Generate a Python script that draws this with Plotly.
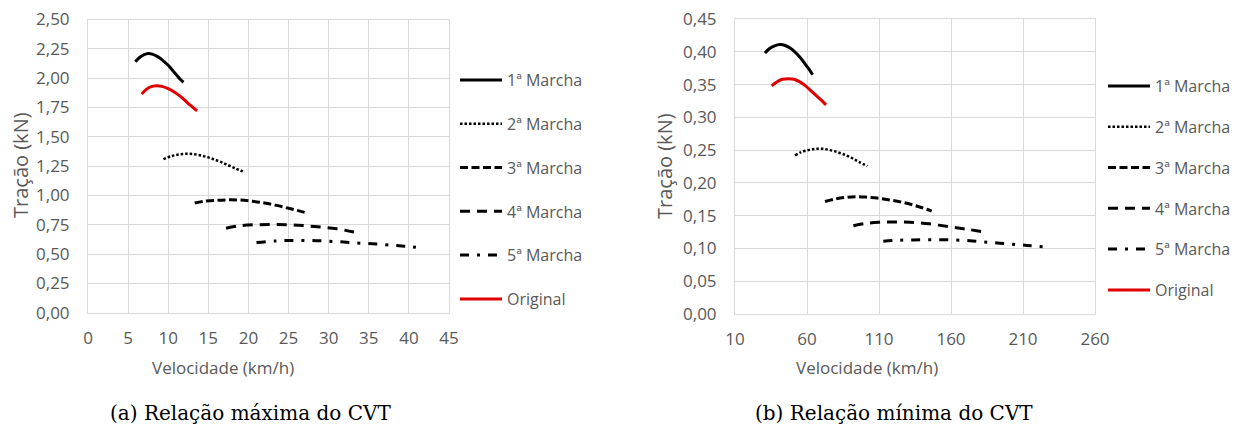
import plotly.graph_objects as go

W, H = 1254, 428
OFF = 8  # page body margin in the viewer
FW, FH = W - OFF, H - OFF

# ---------------- data: (a) Relação máxima do CVT ----------------
a_m1_x = [5.9, 6.5, 7.0, 7.5, 8.0, 8.5, 9.0, 9.5, 10.0, 10.5, 11.0, 11.5, 11.9]
a_m1_y = [2.14, 2.18, 2.20, 2.21, 2.205, 2.19, 2.17, 2.14, 2.11, 2.07, 2.03, 1.99, 1.965]
a_m2_x = [9.4, 10.4, 11.4, 12.4, 13.4, 14.4, 15.4, 16.4, 17.4, 18.4, 19.3]
a_m2_y = [1.31, 1.335, 1.35, 1.355, 1.35, 1.335, 1.315, 1.29, 1.26, 1.23, 1.205]
a_m3_x = [13.3, 14.5, 16.0, 17.5, 19.0, 20.5, 22.0, 23.5, 25.0, 26.2, 27.2]
a_m3_y = [0.935, 0.95, 0.958, 0.962, 0.96, 0.95, 0.935, 0.915, 0.89, 0.87, 0.852]
a_m4_x = [17.2, 19.0, 21.0, 23.0, 25.0, 27.0, 29.0, 31.0, 33.0, 34.0]
a_m4_y = [0.72, 0.742, 0.75, 0.752, 0.75, 0.742, 0.73, 0.715, 0.69, 0.675]
a_m5_x = [21.0, 23.5, 26.0, 28.5, 31.0, 33.5, 36.0, 38.5, 40.0, 41.5]
a_m5_y = [0.598, 0.612, 0.616, 0.614, 0.606, 0.595, 0.585, 0.572, 0.565, 0.552]
a_or_x = [6.7, 7.2, 7.8, 8.5, 9.2, 10.0, 10.8, 11.6, 12.4, 13.0, 13.6]
a_or_y = [1.865, 1.90, 1.925, 1.935, 1.93, 1.91, 1.88, 1.84, 1.79, 1.755, 1.72]

# ---------------- data: (b) Relação mínima do CVT ----------------
b_m1_x = [30.8, 34.0, 37.5, 41.0, 44.5, 48.0, 51.5, 55.0, 58.5, 61.5, 63.9]
b_m1_y = [0.398, 0.405, 0.409, 0.411, 0.410, 0.406, 0.400, 0.392, 0.382, 0.373, 0.365]
b_m2_x = [51.7, 56.0, 61.0, 66.0, 71.0, 76.0, 81.0, 86.0, 91.0, 96.0, 101.9]
b_m2_y = [0.242, 0.247, 0.250, 0.252, 0.252, 0.250, 0.247, 0.243, 0.238, 0.232, 0.2255]
b_m3_x = [72.5, 80.0, 87.5, 95.0, 102.5, 110.0, 117.5, 125.0, 132.5, 140.0, 146.6]
b_m3_y = [0.1715, 0.1755, 0.178, 0.179, 0.178, 0.1765, 0.174, 0.171, 0.167, 0.162, 0.157]
b_m4_x = [92.2, 100.0, 110.0, 120.0, 131.5, 145.0, 159.3, 172.0, 184.8]
b_m4_y = [0.1347, 0.138, 0.140, 0.1405, 0.140, 0.1375, 0.133, 0.129, 0.1246]
b_m5_x = [113.0, 123.0, 133.8, 147.0, 161.3, 175.0, 188.0, 200.0, 213.0, 226.4]
b_m5_y = [0.111, 0.1125, 0.113, 0.1132, 0.113, 0.1115, 0.109, 0.107, 0.1045, 0.102]
b_or_x = [35.5, 39.0, 43.0, 47.0, 51.0, 55.0, 59.0, 63.0, 67.0, 70.5, 73.2]
b_or_y = [0.348, 0.354, 0.358, 0.359, 0.358, 0.354, 0.348, 0.340, 0.332, 0.325, 0.319]

names = ["1ª Marcha", "2ª Marcha", "3ª Marcha", "4ª Marcha", "5ª Marcha", "Original"]
a_ticks_x = [0, 5, 10, 15, 20, 25, 30, 35, 40, 45]
a_ticks_y = [0.0, 0.25, 0.5, 0.75, 1.0, 1.25, 1.5, 1.75, 2.0, 2.25, 2.5]
b_ticks_x = [10, 60, 110, 160, 210, 260]
b_ticks_y = [0.0, 0.05, 0.10, 0.15, 0.20, 0.25, 0.30, 0.35, 0.40, 0.45]

styles = [
    dict(color="black", width=3, dash="solid"),
    dict(color="black", width=2.5, dash="2.5px,2px"),
    dict(color="black", width=3, dash="8px,3.5px"),
    dict(color="black", width=3, dash="10px,7px"),
    dict(color="black", width=3, dash="9px,8px,3px,8px"),
    dict(color="#e00000", width=3, dash="solid"),
]

fig = go.Figure()
a_sets = [(a_m1_x, a_m1_y), (a_m2_x, a_m2_y), (a_m3_x, a_m3_y), (a_m4_x, a_m4_y), (a_m5_x, a_m5_y), (a_or_x, a_or_y)]
b_sets = [(b_m1_x, b_m1_y), (b_m2_x, b_m2_y), (b_m3_x, b_m3_y), (b_m4_x, b_m4_y), (b_m5_x, b_m5_y), (b_or_x, b_or_y)]
for i, (xs, ys) in enumerate(a_sets):
    fig.add_trace(go.Scatter(x=xs, y=ys, mode="lines", name=names[i], line=dict(**styles[i], shape="spline"),
                             xaxis="x", yaxis="y", legend="legend", legendgroup="a%d" % i))
for i, (xs, ys) in enumerate(b_sets):
    fig.add_trace(go.Scatter(x=xs, y=ys, mode="lines", name=names[i], line=dict(**styles[i], shape="spline"),
                             xaxis="x2", yaxis="y2", legend="legend2", legendgroup="b%d" % i))

grid = "#d9d9d9"
txt = "#595959"
font_ui = "Open Sans, Noto Sans, sans-serif"

def px_x(p):
    return (p - OFF) / FW

def px_y(p):
    return 1 - (p - OFF) / FH

common_axis = dict(showgrid=True, gridcolor=grid, gridwidth=1, showline=True, linecolor=grid, mirror=True,
                   zeroline=False, ticks="", automargin=False, ticklabeloverflow="allow",
                   tickfont=dict(family=font_ui, size=17, color=txt))

fig.update_layout(
    width=FW, height=FH, margin=dict(l=0, r=0, t=0, b=0, autoexpand=False),
    paper_bgcolor="white", plot_bgcolor="white",
    xaxis=dict(domain=[px_x(88), px_x(449)], range=[0, 45], tickvals=a_ticks_x, ticklabelstandoff=10,
               anchor="y", **common_axis),
    yaxis=dict(domain=[px_y(312.7), px_y(19.5)], range=[0, 2.5], tickvals=a_ticks_y, tickformat=".2f",
               ticklabelstandoff=14, anchor="x", **common_axis),
    xaxis2=dict(domain=[px_x(735), px_x(1095)], range=[10, 260], tickvals=b_ticks_x, ticklabelstandoff=10,
                anchor="y2", **common_axis),
    yaxis2=dict(domain=[px_y(314), px_y(19)], range=[0, 0.45], tickvals=b_ticks_y, tickformat=".2f",
                ticklabelstandoff=14, anchor="x2", **common_axis),
    separators=",.",
    legend=dict(x=px_x(455), y=px_y(63), xanchor="left", yanchor="top", bgcolor="rgba(0,0,0,0)",
                font=dict(family=font_ui, size=16, color=txt), tracegroupgap=20, itemwidth=42,
                traceorder="grouped"),
    legend2=dict(x=px_x(1103), y=px_y(69), xanchor="left", yanchor="top", bgcolor="rgba(0,0,0,0)",
                 font=dict(family=font_ui, size=16, color=txt), tracegroupgap=17, itemwidth=42,
                 traceorder="grouped"),
)

annots = [
    dict(text="Tração (kN)", x=px_x(20), y=px_y(165), textangle=-90, size=20, family=font_ui, color=txt),
    dict(text="Velocidade (km/h)", x=px_x(223), y=px_y(367), textangle=0, size=17, family=font_ui, color=txt),
    dict(text="Tração (kN)", x=px_x(664), y=px_y(166), textangle=-90, size=20, family=font_ui, color=txt),
    dict(text="Velocidade (km/h)", x=px_x(867), y=px_y(367), textangle=0, size=17, family=font_ui, color=txt),
    dict(text="(a) Relação máxima do CVT", x=px_x(250), y=px_y(413), textangle=0, size=20,
         family="DejaVu Serif, serif", color="black"),
    dict(text="(b) Relação mínima do CVT", x=px_x(894), y=px_y(413), textangle=0, size=20,
         family="DejaVu Serif, serif", color="black"),
]
for a in annots:
    fig.add_annotation(text=a["text"], x=a["x"], y=a["y"], xref="paper", yref="paper", showarrow=False,
                       xanchor="center", yanchor="middle", textangle=a["textangle"], borderpad=0,
                       font=dict(size=a["size"], family=a["family"], color=a["color"]))

fig.write_html("out.html")
